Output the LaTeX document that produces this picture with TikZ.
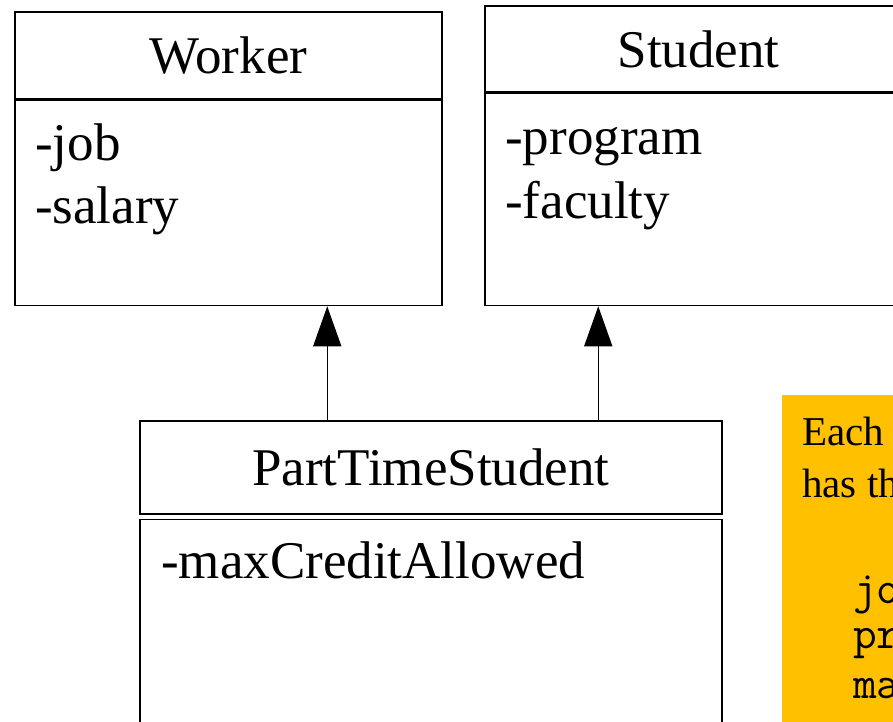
\documentclass[tikz,border=0pt]{standalone}
\usepackage{fontspec}
\setmainfont{Liberation Serif}
\usetikzlibrary{arrows.meta,positioning}
\definecolor{notefill}{RGB}{255,192,0}
\begin{document}
\begin{tikzpicture}[x=1pt,y=-1pt,
    box/.style={draw,line width=1.5pt,inner sep=0pt,font=\fontsize{53}{62}\selectfont},
    attr/.style={anchor=base west,inner sep=0pt,font=\fontsize{53}{62}\selectfont},
    notetext/.style={anchor=base west,inner sep=0pt,font=\fontsize{41}{50}\selectfont},
    monotext/.style={anchor=base west,inner sep=0pt,font=\fontsize{46}{50}\selectfont\ttfamily},
    inherit/.style={line width=1.5pt,-{Triangle[length=40pt,width=28pt]}}]
  \useasboundingbox (0,0) rectangle (893,721);

  % Worker
  \node[box,minimum width=427pt,minimum height=87pt] (worker) at (228.5,55.5) {Worker};
  \node[box,minimum width=427pt,minimum height=205pt,anchor=north] (workerattr) at (worker.south) {};
  \node[attr] (job) at (35,160) {-job};
  \node[attr] (salary) at (35,223) {-salary};

  % Student
  \node[box,minimum width=427pt,minimum height=86pt] (student) at (698.5,49) {Student};
  \node[box,minimum width=427pt,minimum height=212pt,anchor=north] (studentattr) at (student.south) {};
  \node[attr] (program) at (505,154) {-program};
  \node[attr] (faculty) at (505,218) {-faculty};

  % PartTimeStudent
  \node[box,minimum width=582pt,minimum height=93pt] (pts) at (431,467.5) {PartTimeStudent};
  \node[box,minimum width=582pt,minimum height=240pt,anchor=north] (ptsattr) at ([yshift=-4pt]pts.south) {};
  \node[attr] (maxcredit) at (161,578) {-maxCreditAllowed};

  \coordinate (up1) at ([xshift=188pt]pts.north west);
  \coordinate (up2) at ([xshift=459pt]pts.north west);
  \draw[inherit] (up1) -- (up1 |- workerattr.south);
  \draw[inherit] (up2) -- (up2 |- studentattr.south);

  % note
  \node[fill=notefill,inner sep=0pt,minimum width=140pt,minimum height=340pt,anchor=north west] (note) at (782,395) {};
  \node[notetext] (each) at (802,445) {Each};
  \node[notetext] (hasth) at (802,497) {has th};
  \foreach \t/\y in {jo/603,pr/648,ma/698}
    \node[monotext] (\t) at (853,\y) {\t};
\end{tikzpicture}
\end{document}
